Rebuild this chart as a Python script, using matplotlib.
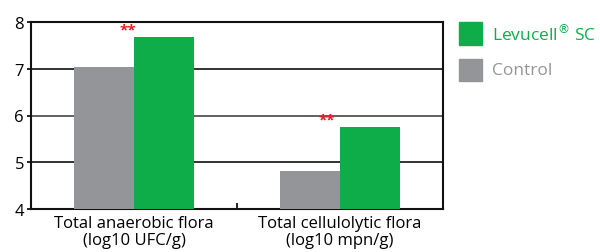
import numpy as np
import matplotlib
matplotlib.use("Agg")
import matplotlib.pyplot as plt
from matplotlib.patches import Rectangle

categories = ["Total anaerobic flora\n(log10 UFC/g)", "Total cellulolytic flora\n(log10 mpn/g)"]
control = [7.04, 4.81]
levucell = [7.68, 5.75]
signif = ["**", "**"]

GREEN = "#0FAD4A"
GRAY = "#939598"
RED = "#ED1C24"

plt.rcParams["font.family"] = ["Open Sans", "DejaVu Sans"]

fig = plt.figure(figsize=(6, 2.53), dpi=100)
ax = fig.add_axes([31 / 600, 1 - 210 / 253, 412 / 600, 187 / 253])

x = np.arange(len(categories))
w = 0.29
ax.bar(x - w / 2, control, w, color=GRAY, zorder=3)
ax.bar(x + w / 2, levucell, w, color=GREEN, zorder=3)
star_dx = [-0.03, -0.065]
for xi, v, s, dx in zip(x, levucell, signif, star_dx):
    ax.text(xi + dx, v + 0.02, s, color=RED, fontsize=11, ha="center", va="bottom",
            fontweight="bold", zorder=4)

ax.set_xlim(-0.5, 1.5)
ax.set_ylim(4, 8)
ax.set_yticks([4, 5, 6, 7, 8])
ax.set_xticks(x)
ax.set_xticklabels(categories, fontsize=12, linespacing=1.15)
ax.set_xticks([0.5], minor=True)
ax.tick_params(axis="x", which="major", length=0, pad=4)
ax.tick_params(axis="x", which="minor", length=4, direction="in", width=1.2)
ax.tick_params(axis="y", length=3, width=1.2, labelsize=12, pad=2)
for yv, c in [(5, "#222222"), (6, "#555555"), (7, "#222222")]:
    ax.axhline(yv, color=c, lw=1.3, zorder=1)
for sp in ax.spines.values():
    sp.set_linewidth(1.5)
    sp.set_color("#111111")

# legend
fig.patches.append(Rectangle((459 / 600, 1 - 46 / 253), 23 / 600, 23 / 253,
                             transform=fig.transFigure, color=GREEN, figure=fig))
fig.patches.append(Rectangle((459 / 600, 1 - 82 / 253), 23 / 600, 22 / 253,
                             transform=fig.transFigure, color=GRAY, figure=fig))
fig.text(492 / 600, 1 - 34.5 / 253, "Levucell$^{®}$ SC", color=GREEN, fontsize=12.5, va="center")
fig.text(492 / 600, 1 - 71 / 253, "Control", color=GRAY, fontsize=12.5, va="center")

fig.savefig("out.png", dpi=100)
